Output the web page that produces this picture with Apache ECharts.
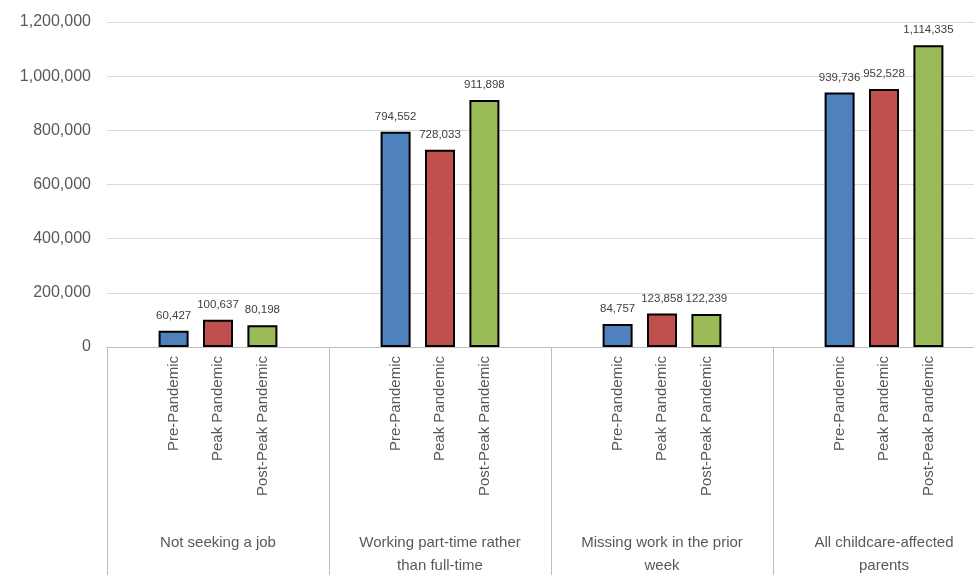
<!DOCTYPE html>
<html><head><meta charset="utf-8">
<script src="https://cdn.jsdelivr.net/npm/echarts@6/dist/echarts.min.js"></script>
<style>html,body{margin:0;padding:0;background:#fff;overflow:hidden}#c{width:995px;height:585px}</style>
</head><body><div id="c"></div>
<script>
const groups = ['Not seeking a job', 'Working part-time rather\nthan full-time', 'Missing work in the prior\nweek', 'All childcare-affected\nparents'];
const periods = ['Pre-Pandemic', 'Peak Pandemic', 'Post-Peak Pandemic'];
const colors = ['#4F81BD', '#C0504D', '#9BBB59'];
const values = [
  [60427, 100637, 80198],
  [794552, 728033, 911898],
  [84757, 123858, 122239],
  [939736, 952528, 1114335]
];
const yTicks = {min: 0, max: 1200000, interval: 200000};

const slots = [], data = [];
groups.forEach((g, gi) => {
  slots.push(''); data.push(null);
  periods.forEach((p, pi) => {
    slots.push(p);
    data.push({value: values[gi][pi], itemStyle: {color: colors[pi]}});
  });
  slots.push(''); data.push(null);
});

const chart = echarts.init(document.getElementById('c'));
chart.setOption({
  animation: false,
  grid: {left: 107, top: 22, right: 0, bottom: 238, containLabel: false},
  xAxis: [{
    type: 'category', data: slots, position: 'bottom',
    axisLine: {lineStyle: {color: '#BFBFBF', width: 1}},
    axisTick: {show: false},
    axisLabel: {interval: 0, rotate: 90, margin: 9, fontSize: 15, color: '#595959', fontFamily: 'Liberation Sans'}
  }, {
    type: 'category', data: groups, position: 'bottom',
    axisLine: {show: false},
    axisTick: {show: true, length: 228, interval: 0, lineStyle: {color: '#BFBFBF'}},
    axisLabel: {interval: 0, margin: 184, fontSize: 15, color: '#595959', lineHeight: 23, fontFamily: 'Liberation Sans'}
  }],
  yAxis: {
    type: 'value', min: yTicks.min, max: yTicks.max, interval: yTicks.interval,
    axisLine: {show: false}, axisTick: {show: false},
    splitLine: {lineStyle: {color: '#D9D9D9'}},
    axisLabel: {fontSize: 16, color: '#595959', margin: 16, fontFamily: 'Liberation Sans',
      formatter: v => v.toLocaleString('en-US')}
  },
  series: [{
    type: 'bar', xAxisIndex: 0, data: data, barWidth: 30,
    itemStyle: {borderColor: '#000', borderWidth: 2},
    label: {show: true, position: 'top', distance: 9, fontSize: 11.5, color: '#404040', fontFamily: 'Liberation Sans',
      formatter: p => p.value.toLocaleString('en-US')}
  }]
});
</script></body></html>
